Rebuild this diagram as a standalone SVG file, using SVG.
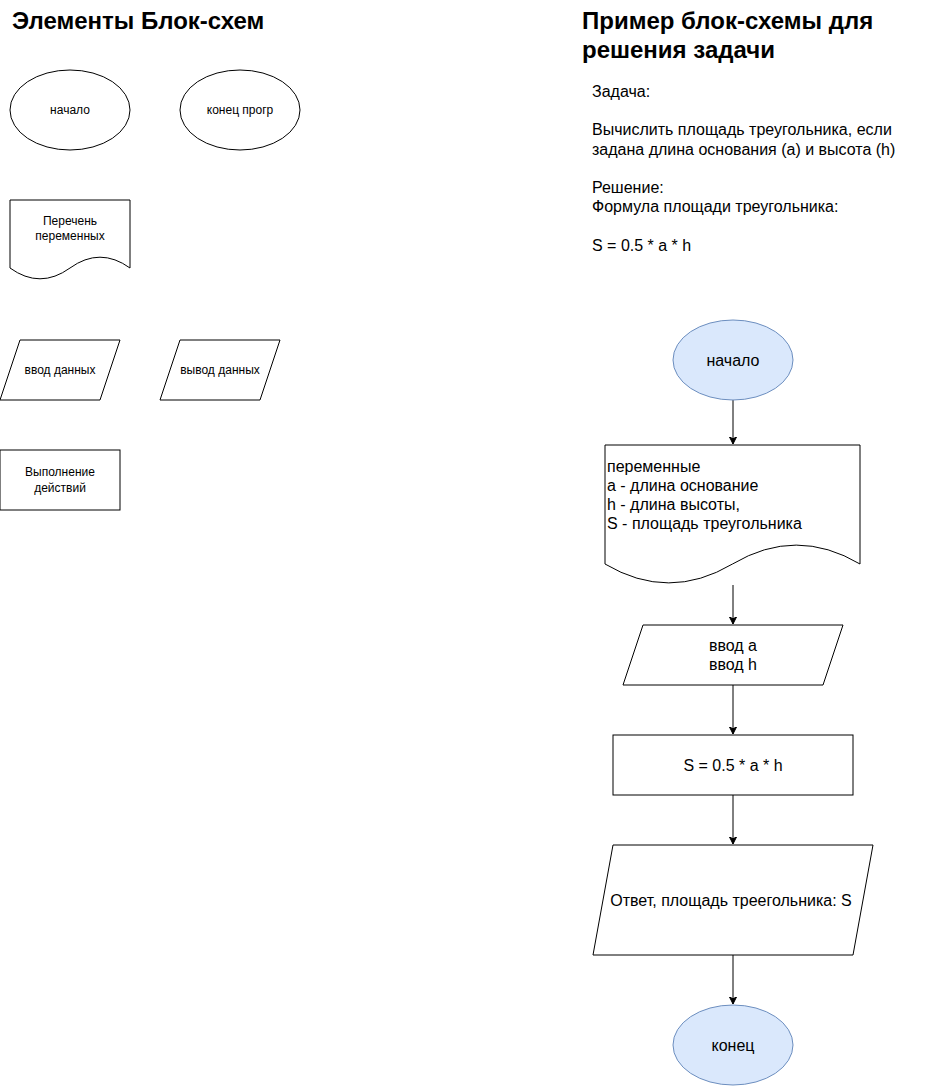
<svg xmlns="http://www.w3.org/2000/svg" width="941" height="1086" viewBox="0 0 941 1086">
  <style>
    text { font-family: "Liberation Sans", Arial, Helvetica, sans-serif; fill: #000000; }
    .title { font-size: 24px; font-weight: bold; }
    .sm { font-size: 12px; text-anchor: middle; }
    .md { font-size: 16px; }
    .mc { font-size: 16px; text-anchor: middle; }
    .shape { fill: #ffffff; stroke: #000000; stroke-width: 1; }
    .term { fill: #dae8fc; stroke: #6c8ebf; stroke-width: 1; }
    .edge { fill: none; stroke: #000000; stroke-width: 1; marker-end: url(#arrow); }
  </style>
  <defs>
    <marker id="arrow" markerUnits="userSpaceOnUse" markerWidth="10" markerHeight="10" viewBox="0 -5 10 10" refX="7" refY="0" orient="auto">
      <path d="M7,0 L0,-3.5 L1.75,0 L0,3.5 Z" fill="#000000" stroke="#000000" stroke-width="1"/>
    </marker>
  </defs>
  <rect width="941" height="1086" fill="#ffffff"/>

  <!-- Legend: flowchart elements -->
  <g id="legend-title">
    <text class="title" x="12" y="29">Элементы Блок-схем</text>
  </g>
  <g id="legend-start">
    <ellipse class="shape" cx="70" cy="110" rx="60" ry="40"/>
    <text class="sm" x="70" y="114">начало</text>
  </g>
  <g id="legend-end">
    <ellipse class="shape" cx="240" cy="110" rx="60" ry="40"/>
    <text class="sm" x="240" y="114">конец прогр</text>
  </g>
  <g id="legend-vars">
    <path class="shape" d="M10,200 H130 V268 Q100,246.4 70,268 Q40,289.6 10,268 Z"/>
    <text class="sm" x="70" y="225">Перечень</text>
    <text class="sm" x="70" y="240">переменных</text>
  </g>
  <g id="legend-input">
    <path class="shape" d="M20,340 H120 L100,400 H0 Z"/>
    <text class="sm" x="60" y="374">ввод данных</text>
  </g>
  <g id="legend-output">
    <path class="shape" d="M180,340 H280 L260,400 H160 Z"/>
    <text class="sm" x="220" y="374">вывод данных</text>
  </g>
  <g id="legend-process">
    <rect class="shape" x="0" y="450" width="120" height="60"/>
    <text class="sm" x="60" y="476">Выполнение</text>
    <text class="sm" x="60" y="492">действий</text>
  </g>

  <!-- Example: task description -->
  <g id="example-title">
    <text class="title" x="582" y="29">Пример блок-схемы для</text>
    <text class="title" x="582" y="58">решения задачи</text>
  </g>
  <g id="task-text">
    <text class="md" x="592" y="97">Задача:</text>
    <text class="md" x="592" y="135.4">Вычислить площадь треугольника, если</text>
    <text class="md" x="592" y="154.6">задана длина основания (a) и высота (h)</text>
    <text class="md" x="592" y="193">Решение:</text>
    <text class="md" x="592" y="212.2">Формула площади треугольника:</text>
    <text class="md" x="592" y="250.6">S = 0.5 * a * h</text>
  </g>

  <!-- Example flowchart -->
  <g id="connectors">
    <path class="edge" d="M733,400 V444"/>
    <path class="edge" d="M733,585 V624"/>
    <path class="edge" d="M733,685 V734"/>
    <path class="edge" d="M733,795 V844"/>
    <path class="edge" d="M733,955 V1004"/>
  </g>
  <g id="start">
    <ellipse class="term" cx="733" cy="360" rx="60" ry="40"/>
    <text class="mc" x="733" y="366">начало</text>
  </g>
  <g id="variables">
    <path class="shape" d="M605,445 H860 V564 Q796.25,526.2 732.5,564 Q668.75,601.8 605,564 Z"/>
    <text class="md" x="607" y="471.5">переменные</text>
    <text class="md" x="607" y="490.7">a - длина основание</text>
    <text class="md" x="607" y="509.9">h - длина высоты,</text>
    <text class="md" x="607" y="529.1">S - площадь треугольника</text>
  </g>
  <g id="input">
    <path class="shape" d="M643,625 H843 L823,685 H623 Z"/>
    <text class="mc" x="733" y="651">ввод a</text>
    <text class="mc" x="733" y="670.2">ввод h</text>
  </g>
  <g id="compute">
    <rect class="shape" x="613" y="735" width="240" height="60"/>
    <text class="mc" x="733" y="771">S = 0.5 * a * h</text>
  </g>
  <g id="output">
    <path class="shape" d="M613,845 H873 L853,955 H593 Z"/>
    <text class="mc" x="731" y="906">Ответ, площадь треегольника: S</text>
  </g>
  <g id="end">
    <ellipse class="term" cx="733" cy="1045" rx="60" ry="40"/>
    <text class="mc" x="733" y="1051">конец</text>
  </g>
</svg>
